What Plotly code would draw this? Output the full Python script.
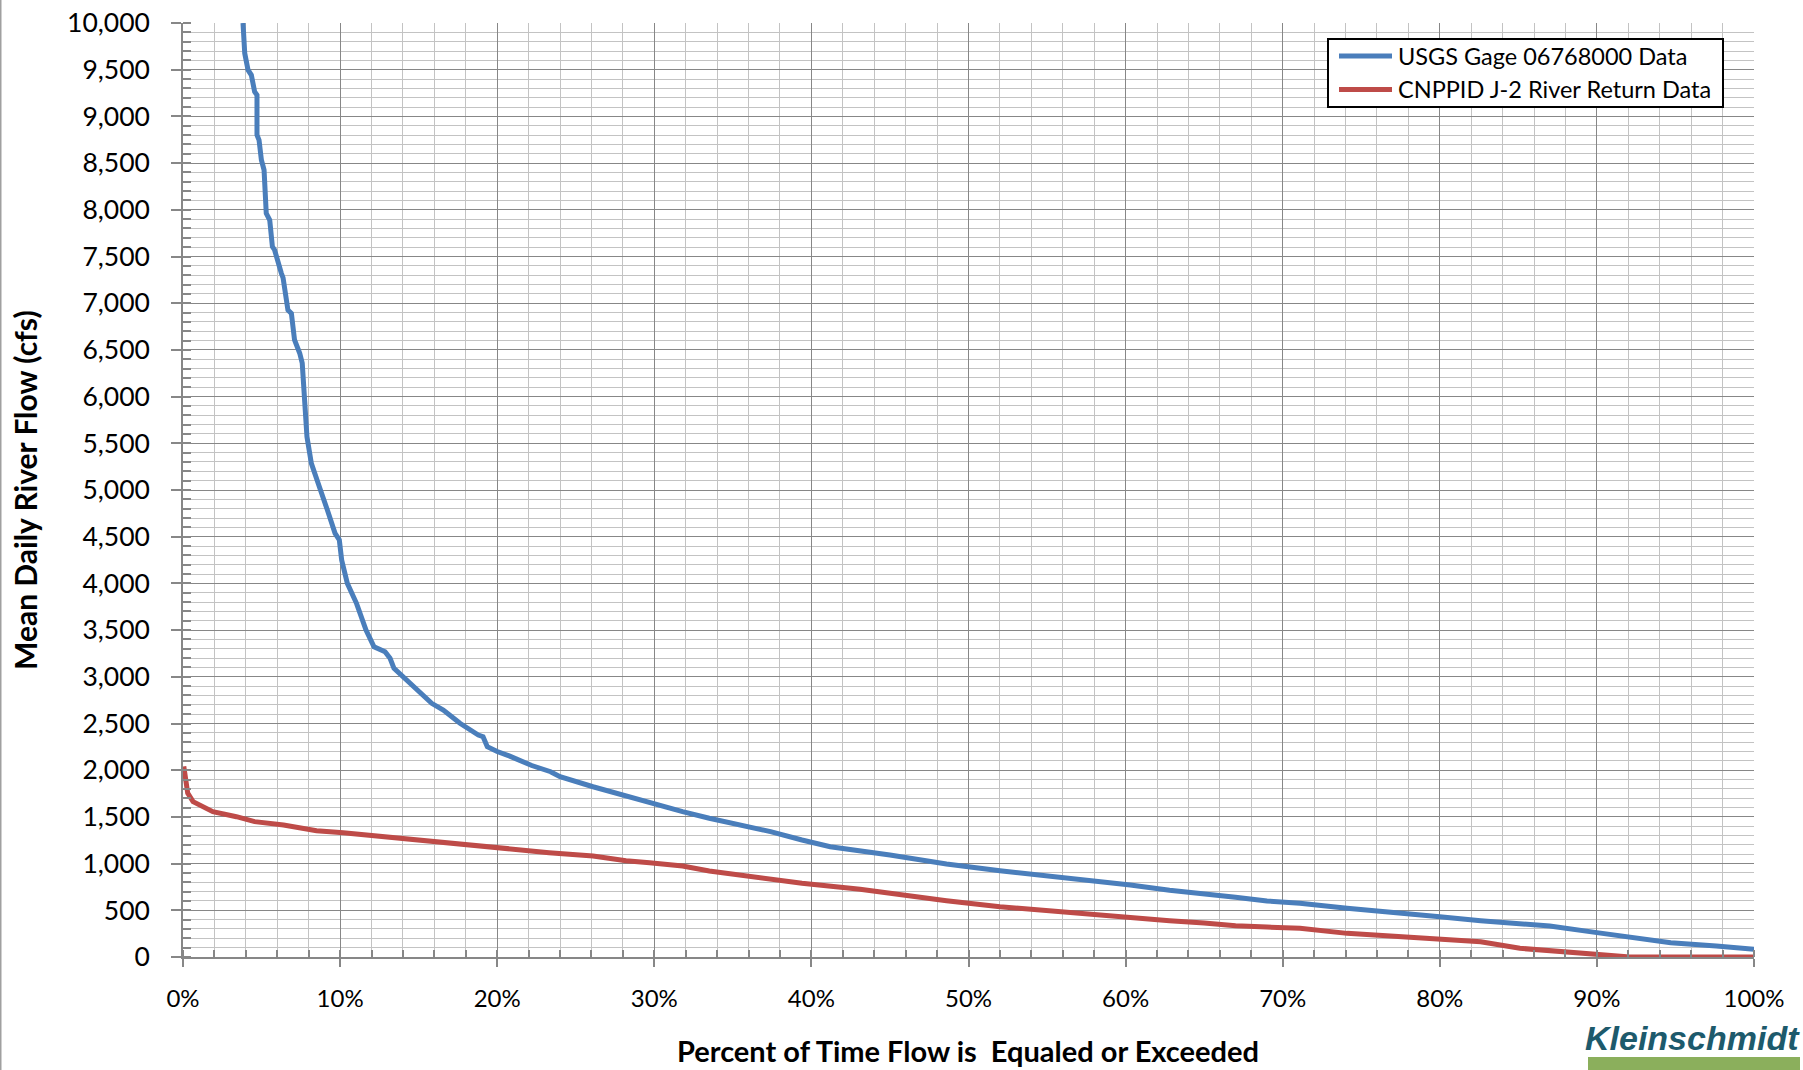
import plotly.graph_objects as go

# ---- data (percent of time, flow in cfs) ----
usgs_pct = [3.82, 3.93, 4.14, 4.35, 4.56, 4.71, 4.71, 4.84, 4.99, 5.16, 5.30, 5.52, 5.69, 5.83,
            6.26, 6.37, 6.68, 6.90, 7.10, 7.43, 7.59, 7.70, 7.89, 8.17, 8.30, 8.49, 8.75, 9.19,
            9.68, 9.95, 10.10, 10.46, 11.05, 11.65, 12.16, 12.86, 13.18, 13.43, 14.00, 14.77,
            15.83, 16.57, 17.63, 18.80, 19.10, 19.37, 20.0, 20.8, 22.2, 23.4, 24.0, 26.1, 28.0,
            30.1, 31.8, 33.5, 37.4, 39.4, 41.2, 45.0, 48.6, 52.0, 55.2, 57.9, 60.3, 62.8, 65.0,
            67.0, 69.0, 71.1, 74.1, 77.9, 80.0, 82.6, 87.0, 90.0, 92.3, 94.7, 97.6, 100.0]
usgs_flow = [10000, 9675, 9497, 9443, 9264, 9229, 8800, 8747, 8533, 8426, 7962, 7891, 7605, 7570,
             7320, 7270, 6927, 6891, 6606, 6464, 6357, 5999, 5571, 5286, 5214, 5107, 5000, 4786,
             4536, 4465, 4250, 4000, 3784, 3501, 3322, 3269, 3198, 3091, 3001, 2894,
             2716, 2645, 2502, 2377, 2359, 2252, 2200, 2150, 2050, 1984, 1930, 1823, 1734,
             1627, 1556, 1485, 1342, 1253, 1181, 1092, 996, 924, 867, 806, 771, 715, 680,
             640, 600, 575, 521, 468, 432, 389, 332, 261, 211, 153, 118, 82]

j2_pct = [0.05, 0.30, 0.64, 1.9, 3.4, 4.56, 6.4, 8.5, 10.2, 12.7, 15.9, 18.0, 20.0, 23.3, 26.1,
          28.2, 29.7, 31.8, 33.5, 37.4, 39.4, 43.1, 46.7, 48.6, 52.0, 55.2, 57.9, 62.8, 65.0,
          67.0, 69.0, 71.1, 74.1, 77.9, 80.0, 82.6, 85.1, 87.0, 90.0, 91.9, 95.0, 100.0]
j2_flow = [2040, 1755, 1663, 1556, 1502, 1449, 1413, 1352, 1331, 1288, 1234, 1210, 1174, 1117, 1081,
           1031, 1010, 974, 921, 832, 789, 725, 639, 603, 539, 492, 450, 389, 365,
           335, 320, 307, 253, 211, 189, 164, 93, 68, 21, 3, 0, 0]

series_names = ["USGS Gage 06768000 Data", "CNPPID J-2 River Return Data"]
series_colors = ["#4A7EBB", "#BE4B48"]
x_ticks = list(range(0, 101, 10))
y_ticks = list(range(0, 10001, 500))

FONT = "Lato, 'Open Sans', sans-serif"
MAJOR = "#878787"
MINOR = "#C3C3C3"

W, H = 1803, 1070
L, R, T, B = 183, 49, 23, 113
pw, ph = W - L - R, H - T - B


def px(x):
    return (x - L) / pw


def py(y):
    return (H - B - y) / ph


fig = go.Figure()
fig.add_trace(go.Scatter(x=usgs_pct, y=usgs_flow, mode="lines", name=series_names[0],
                         line=dict(color=series_colors[0], width=5)))
fig.add_trace(go.Scatter(x=j2_pct, y=j2_flow, mode="lines", name=series_names[1],
                         line=dict(color=series_colors[1], width=5)))

fig.update_layout(
    width=W, height=H,
    margin=dict(l=L, r=R, t=T, b=B, autoexpand=False),
    paper_bgcolor="white", plot_bgcolor="white",
    font=dict(family=FONT, color="black", size=24),
    showlegend=False,
)
fig.update_xaxes(
    range=[0, 100], tickvals=x_ticks, ticktext=[f"{v}%" for v in x_ticks],
    showgrid=True, gridcolor=MAJOR, gridwidth=1.2,
    showline=True, linecolor=MAJOR, linewidth=1.5,
    ticks="outside", ticklen=8, tickcolor=MAJOR, tickwidth=1.5,
    ticklabelstandoff=11, tickfont=dict(size=24),
    minor=dict(dtick=2, showgrid=True, gridcolor=MINOR, gridwidth=1,
               ticks="inside", ticklen=7, tickcolor=MAJOR, tickwidth=1.5),
    zeroline=False,
)
fig.update_yaxes(
    range=[0, 10000], tickvals=y_ticks, ticktext=[f"{v:,}" for v in y_ticks],
    showgrid=True, gridcolor=MAJOR, gridwidth=1.2,
    showline=True, linecolor=MAJOR, linewidth=1.5,
    ticks="outside", ticklen=10, tickcolor=MAJOR, tickwidth=1.5,
    ticklabelstandoff=16, tickfont=dict(size=26.5),
    minor=dict(dtick=100, showgrid=True, gridcolor=MINOR, gridwidth=1,
               ticks="inside", ticklen=8, tickcolor=MAJOR, tickwidth=1.5),
    zeroline=False,
)

# axis titles
fig.add_annotation(text="<b>Percent of Time Flow is  Equaled or Exceeded</b>",
                   xref="paper", yref="paper", x=px(968), y=py(1050),
                   xanchor="center", yanchor="middle",
                   showarrow=False, font=dict(family=FONT, size=29, color="black"))
fig.add_annotation(text="<b>Mean Daily River Flow (cfs)</b>",
                   xref="paper", yref="paper", x=px(25), y=0.5,
                   xanchor="center", yanchor="middle", textangle=-90,
                   showarrow=False, font=dict(family=FONT, size=30, color="black"))

# legend (drawn manually to match box geometry)
fig.add_shape(type="rect", xref="paper", yref="paper",
              x0=px(1328), x1=px(1723), y0=py(107), y1=py(39),
              fillcolor="white", line=dict(color="black", width=2), layer="above")
for i, (name, col) in enumerate(zip(series_names, series_colors)):
    yc = 56 + i * 33.5
    fig.add_shape(type="line", xref="paper", yref="paper",
                  x0=px(1339), x1=px(1392), y0=py(yc), y1=py(yc),
                  line=dict(color=col, width=5), layer="above")
    fig.add_annotation(text=name, xref="paper", yref="paper", x=px(1396), y=py(yc),
                       xanchor="left", yanchor="middle", showarrow=False,
                       font=dict(family=FONT, size=23.5, color="black"))

# logo
fig.add_annotation(text="<b><i>Kleinschmidt</i></b>", xref="paper", yref="paper",
                   x=px(1802), y=py(1038), xanchor="right", yanchor="middle",
                   showarrow=False,
                   font=dict(family="'Liberation Sans Narrow', 'Liberation Sans', sans-serif",
                             size=34, color="#1D5A6C"))
fig.add_shape(type="rect", xref="paper", yref="paper",
              x0=px(1588), x1=px(1800), y0=py(1070), y1=py(1057),
              fillcolor="#8BAF5C", line=dict(width=0), layer="above")
# left image border line
fig.add_shape(type="line", xref="paper", yref="paper",
              x0=px(0.75), x1=px(0.75), y0=py(1070), y1=py(0),
              line=dict(color="#A0A0A0", width=1.5))

fig.write_html("out.html")
